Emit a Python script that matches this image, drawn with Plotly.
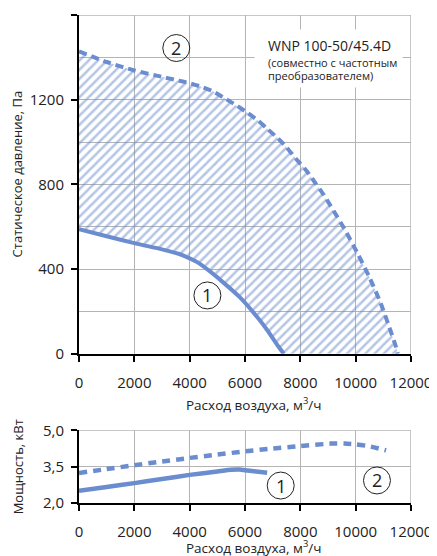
import plotly.graph_objects as go

# ---- data ----
# static pressure, curve 1 (solid)
flow_p1 = [0, 1000, 2000, 3000, 3600, 4000, 4300, 4700, 5200, 5800, 6300, 6800, 7200, 7400]
pres_p1 = [588, 555, 522, 493, 472, 450, 430, 392, 338, 268, 195, 112, 35, 0]
# static pressure, curve 2 (dashed, with frequency converter)
flow_p2 = [0, 1000, 2000, 3000, 3500, 4000, 4400, 4800, 5200, 5700, 6100, 6500, 6800,
           7200, 7500, 7900, 8250, 8550, 8850, 9100, 9600, 10100, 10500, 10900, 11250,
           11450, 11520]
pres_p2 = [1428, 1378, 1338, 1308, 1293, 1278, 1262, 1242, 1212, 1172, 1137, 1098, 1063,
           1016, 975, 912, 860, 805, 750, 697, 588, 466, 360, 240, 112,
           35, 0]
# power, curve 1
flow_w1 = [0, 1000, 2000, 3000, 4000, 5000, 5500, 5800, 6100, 6800]
powr_w1 = [2.50, 2.66, 2.82, 2.99, 3.16, 3.30, 3.37, 3.38, 3.34, 3.25]
# power, curve 2
flow_w2 = [0, 1000, 2000, 3000, 4000, 5000, 6000, 7000, 8000, 9100, 9600, 10000, 10500, 11100]
powr_w2 = [3.24, 3.40, 3.56, 3.71, 3.86, 4.00, 4.13, 4.25, 4.35, 4.45, 4.45, 4.42, 4.34, 4.17]

x_ticks = [0, 2000, 4000, 6000, 8000, 10000, 12000]
p_ticks = [0, 400, 800, 1200, 1600]
w_ticks = [2.0, 3.5, 5.0]

model_title = "WNP 100-50/45.4D"
model_sub1 = "(совместно с частотным"
model_sub2 = "преобразователем)"
x_title = "Расход воздуха, м<sup>3</sup>/ч"
y1_title = "Статическое давление, Па"
y2_title = "Мощность, кВт"

# ---- style ----
BLUE = "#6b8cce"
GRID = "#b4b4b4"
FONT = "Open Sans"

fig = go.Figure()

# hatched region between curve 2 (top) and curve 1 / zero (bottom)
poly_x = flow_p2 + [flow_p2[-1]] + flow_p1[::-1]
poly_y = pres_p2 + [0] + pres_p1[::-1]
fig.add_trace(go.Scatter(
    x=poly_x, y=poly_y, mode="lines", fill="toself",
    line=dict(width=0, color="rgba(0,0,0,0)"),
    fillcolor="rgba(0,0,0,0)",
    fillpattern=dict(shape="/", size=6.5, solidity=0.38, fgcolor=BLUE,
                     bgcolor="rgba(0,0,0,0)", fillmode="overlay"),
    hoverinfo="skip", showlegend=False, xaxis="x", yaxis="y"))

fig.add_trace(go.Scatter(x=flow_p1, y=pres_p1, mode="lines",
                         line=dict(color=BLUE, width=4, shape="spline", smoothing=0.6),
                         showlegend=False, xaxis="x", yaxis="y"))
fig.add_trace(go.Scatter(x=flow_p2, y=pres_p2, mode="lines",
                         line=dict(color=BLUE, width=4, dash="8px,5px", shape="spline", smoothing=0.6),
                         showlegend=False, xaxis="x", yaxis="y"))

fig.add_trace(go.Scatter(x=flow_w1, y=powr_w1, mode="lines",
                         line=dict(color=BLUE, width=4.5, shape="spline", smoothing=0.5),
                         showlegend=False, xaxis="x2", yaxis="y2"))
fig.add_trace(go.Scatter(x=flow_w2, y=powr_w2, mode="lines",
                         line=dict(color=BLUE, width=4.5, dash="8px,6px", shape="spline", smoothing=0.5),
                         showlegend=False, xaxis="x2", yaxis="y2"))

axis_common = dict(showline=True, linecolor="black", linewidth=2, ticks="outside",
                   ticklen=6, tickwidth=1.5, tickcolor="black", showgrid=True,
                   gridcolor=GRID, gridwidth=1, zeroline=False, automargin=False,
                   tickfont=dict(family=FONT, size=15, color="#222"))

# page body has an 8px margin, so the figure is drawn 8px smaller and shifted
fig.update_layout(
    width=429, height=548,
    margin=dict(l=71, r=26, t=7, b=53, autoexpand=False),
    paper_bgcolor="white", plot_bgcolor="white",
    separators=", ",
    font=dict(family=FONT, color="#222"),
    xaxis=dict(axis_common, domain=[0, 1], range=[0, 12000], tickvals=x_ticks,
               tickformat="d", anchor="y", ticklabelstandoff=8),
    yaxis=dict(axis_common, domain=[0.306, 1], range=[0, 1600], tickvals=p_ticks,
               tickformat="d", anchor="x", ticklabelstandoff=4,
               minor=dict(dtick=200, showgrid=True, gridcolor=GRID, gridwidth=1)),
    xaxis2=dict(axis_common, domain=[0, 1], range=[0, 12000], tickvals=x_ticks,
                tickformat="d", anchor="y2", ticklabelstandoff=8),
    yaxis2=dict(axis_common, domain=[0, 0.149], range=[2.0, 5.0], tickvals=w_ticks,
                tickformat=".1f", anchor="x2", ticklabelstandoff=4),
)

shapes = []
# grey frame on top / right
for xr, yr, ybot, ytop in (("x", "y", 0, 1600), ("x2", "y2", 2.0, 5.0)):
    shapes.append(dict(type="line", xref=xr, yref=yr, x0=0, x1=12000, y0=ytop, y1=ytop,
                       line=dict(color=GRID, width=1.5), layer="below"))
    shapes.append(dict(type="line", xref=xr, yref=yr, x0=12000, x1=12000, y0=ybot, y1=ytop,
                       line=dict(color=GRID, width=1.5), layer="below"))

annots = [
    # white box behind model text
    dict(x=6330, y=1535, xref="x", yref="y", text=" ", xanchor="left", yanchor="top",
         width=147, height=57, bgcolor="white", borderpad=0,
         font=dict(size=11, family=FONT, color="#222")),
    dict(x=6765, y=1456, xref="x", yref="y", text=model_title, xanchor="left",
         yanchor="middle", font=dict(size=14, family=FONT, color="#222")),
    dict(x=6765, y=1377, xref="x", yref="y", text=model_sub1, xanchor="left",
         yanchor="middle", font=dict(size=11, family=FONT, color="#222")),
    dict(x=6765, y=1315, xref="x", yref="y", text=model_sub2, xanchor="left",
         yanchor="middle", font=dict(size=11, family=FONT, color="#222")),
    dict(x=0, y=847, xref="paper", yref="y", xshift=-62, text=y1_title, textangle=-90,
         xanchor="center", yanchor="middle", font=dict(size=13, family=FONT, color="#222")),
    dict(x=0, y=3.47, xref="paper", yref="y2", xshift=-61, text=y2_title, textangle=-90,
         xanchor="center", yanchor="middle", font=dict(size=13, family=FONT, color="#222")),
    dict(x=6334, y=0, xref="x", yref="y", yshift=-50, text=x_title,
         xanchor="center", yanchor="middle", font=dict(size=13.5, family=FONT, color="#222")),
    dict(x=6334, y=2.0, xref="x2", yref="y2", yshift=-44, text=x_title,
         xanchor="center", yanchor="middle", font=dict(size=13.5, family=FONT, color="#222")),
]

# circled numbers
circles = [("x", "y", 3517, 1444, "2"), ("x", "y", 4641, 275, "1"),
           ("x2", "y2", 7290, 2.72, "1"), ("x2", "y2", 10770, 2.93, "2")]
for xr, yr, cx, cy, t in circles:
    shapes.append(dict(type="circle", xref=xr, yref=yr, xsizemode="pixel", ysizemode="pixel",
                       xanchor=cx, yanchor=cy, x0=-13.5, x1=13.5, y0=-13.5, y1=13.5,
                       line=dict(color="#222", width=1), layer="above"))
    annots.append(dict(x=cx, y=cy, xref=xr, yref=yr, text=t,
                       xanchor="center", yanchor="middle",
                       font=dict(size=18, family=FONT, color="#222")))

for a in annots:
    a.setdefault("showarrow", False)
fig.update_layout(annotations=annots, shapes=shapes)

fig.write_html("out.html")
